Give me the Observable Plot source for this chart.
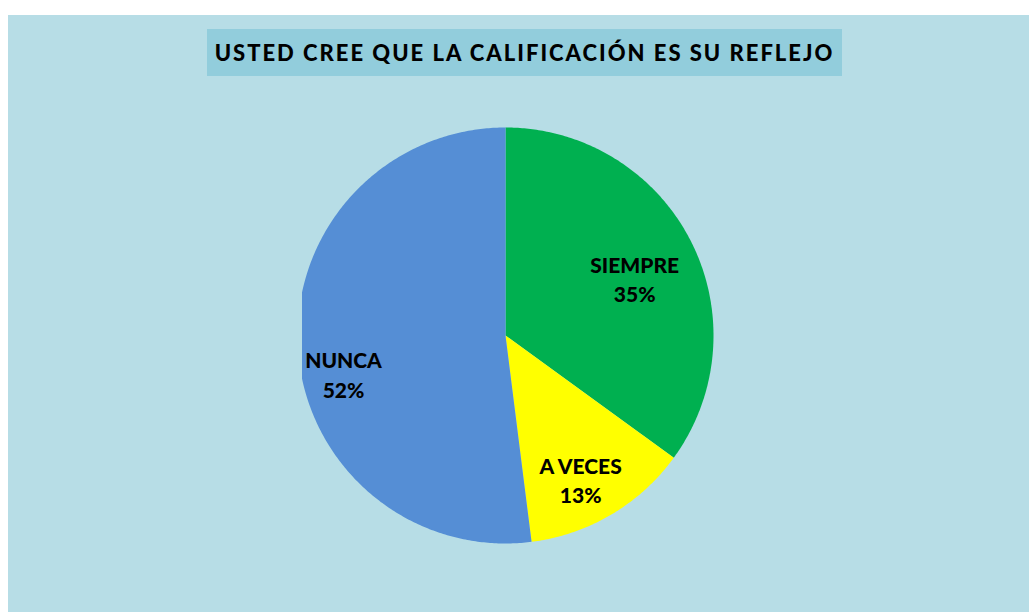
<!DOCTYPE html>
<html>
<head>
<meta charset="utf-8">
<script src="https://cdn.jsdelivr.net/npm/d3@7"></script>
<script src="https://cdn.jsdelivr.net/npm/@observablehq/plot@0.6"></script>
<style>
  html, body { margin: 0; padding: 0; background: #ffffff; }
  #page { position: relative; width: 1029px; height: 612px; overflow: hidden; background: #ffffff; }
  #panel { position: absolute; left: 8px; top: 15px; width: 1021px; height: 597px; background: #b7dde6; }
  #title {
    position: absolute; left: 207px; top: 29px; width: 635px; height: 47px;
    background: #92cddc; color: #000; font-family: Lato, "Open Sans", sans-serif;
    font-weight: 900; font-size: 22px; letter-spacing: 2px; line-height: 47px;
    text-align: center; white-space: nowrap;
  }
  #chart { position: absolute; left: 8px; top: 15px; }
</style>
</head>
<body>
<div id="page">
  <div id="panel"></div>
  <div id="chart"></div>
  <div id="title">USTED CREE QUE LA CALIFICACIÓN ES SU REFLEJO</div>
</div>
<script>
// ---- data ----
const categories = ["SIEMPRE", "A VECES", "NUNCA"];
const percentages = [35, 13, 52];
const sliceColors = ["#00b050", "#ffff00", "#558ed5"];

// ---- layout (pixels) ----
const W = 1021, H = 597;
const cx = 497, cy = 320, R = 208;   // pie centre and radius inside the svg
const clipLeft = 294;                 // plot area left edge (pie slightly cut)

// label placement (fraction of radius, angle tweak in degrees)
const labelPolar = {
  "SIEMPRE": {r: 0.68, da: 3},
  "A VECES": {r: 0.78, da: 3},
  "NUNCA":   {r: 0.80, da: -9.6}
};

const arcs = d3.pie().sort(null).value(d => d.value)(
  categories.map((c, i) => ({category: c, value: percentages[i]}))
);

// polygon outlines of each slice in unit coordinates (angle 0 = top, clockwise)
const outline = [];
arcs.forEach(a => {
  const c = a.data.category;
  outline.push({category: c, x: 0, y: 0});
  const steps = Math.max(8, Math.ceil((a.endAngle - a.startAngle) / 0.01));
  for (let k = 0; k <= steps; k++) {
    const t = a.startAngle + (a.endAngle - a.startAngle) * k / steps;
    outline.push({category: c, x: Math.sin(t), y: Math.cos(t)});
  }
});

const labels = arcs.map(a => {
  const c = a.data.category;
  const p = labelPolar[c];
  const mid = (a.startAngle + a.endAngle) / 2 + p.da * Math.PI / 180;
  return {category: c, x: p.r * Math.sin(mid), y: p.r * Math.cos(mid),
          text: `${c}\n${a.data.value}%`};
});

const chart = Plot.plot({
  width: W,
  height: H,
  marginLeft: clipLeft, marginRight: 0, marginTop: 0, marginBottom: 0,
  style: {background: "transparent", overflow: "visible"},
  x: {domain: [(clipLeft - cx) / R, (W - cx) / R], axis: null},
  y: {domain: [-(H - cy) / R, cy / R], axis: null},
  color: {domain: categories, range: sliceColors},
  marks: [
    Plot.line(outline, {x: "x", y: "y", z: "category", fill: "category",
      stroke: "none", curve: "linear-closed", clip: true}),
    Plot.text(labels, {x: "x", y: "y", text: "text", fill: "#000",
      fontFamily: "Lato, 'Open Sans', sans-serif", fontWeight: 900,
      fontSize: 21, lineHeight: 1.4})
  ]
});
document.getElementById("chart").appendChild(chart);
</script>
</body>
</html>
